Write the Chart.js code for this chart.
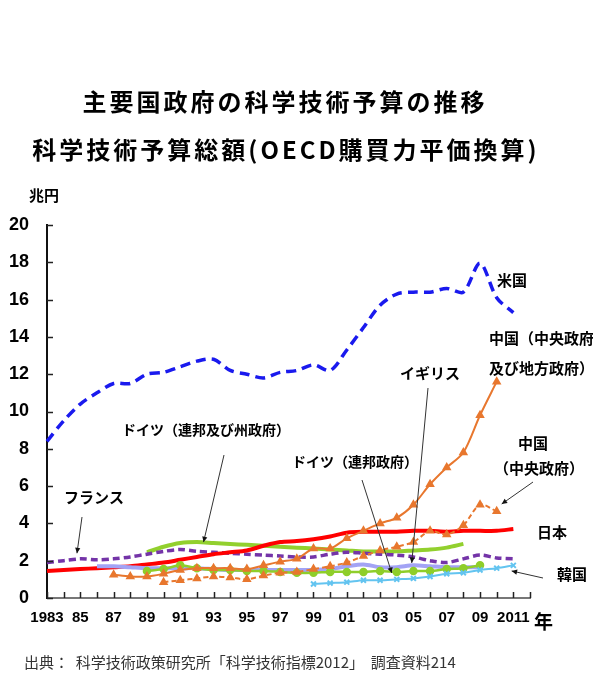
<!DOCTYPE html>
<html lang="ja">
<head>
<meta charset="utf-8">
<title>主要国政府の科学技術予算の推移</title>
<script src="https://cdn.jsdelivr.net/npm/chart.js@4.4.1/dist/chart.umd.min.js"></script>
<style>
  html, body { margin: 0; padding: 0; background: #fff; }
  #wrap { width: 593px; height: 673px; position: relative; }
</style>
</head>
<body>
<div id="wrap"><canvas id="stage"></canvas></div>
<script>
// 年（1983〜2012、2012は軸の端だけ）
var years = [];
for (var y = 1983; y <= 2012; y++) years.push(y);

// 科学技術予算総額（兆円）
var us = [8.4, 9.5, 10.4, 11.0, 11.5, 11.5, 12.0, 12.1, 12.4, 12.7, 12.8, 12.2, 12.0, 11.8, 12.1,
          12.2, 12.5, 12.2, 13.3, 14.5, 15.7, 16.3, 16.4, 16.4, 16.6, 16.4, 17.95, 16.1, 15.3, null];
var japan = [1.45, 1.5, 1.55, 1.6, 1.65, 1.7, 1.8, 1.9, 2.05, 2.2, 2.35, 2.45, 2.55, 2.8, 3.0,
             3.05, 3.15, 3.3, 3.5, 3.55, 3.55, 3.55, 3.6, 3.6, 3.55, 3.6, 3.6, 3.6, 3.7, null];
var france = [1.9, 2.0, 2.1, 2.05, 2.1, 2.2, 2.35, 2.5, 2.6, 2.5, 2.45, 2.4, 2.35, 2.3, 2.25,
              2.2, 2.2, 2.35, 2.45, 2.4, 2.35, 2.3, 2.2, 2.0, 1.9, 2.1, 2.3, 2.15, 2.1, null];
var germanyAll = [null, null, null, null, null, null,
                  2.45, 2.75, 2.95, 3.0, 2.95, 2.9, 2.85, 2.8, 2.75, 2.7, 2.65, 2.6, 2.55, 2.5,
                  2.5, 2.5, 2.55, 2.6, 2.7, 2.9, null, null, null, null];
var germanyFed = [null, null, null, null, null, null,
                  1.45, 1.55, 1.75, 1.6, 1.5, 1.5, 1.45, 1.45, 1.4, 1.35, 1.35, 1.4, 1.4, 1.4,
                  1.45, 1.4, 1.45, 1.45, 1.55, 1.6, 1.75, null, null, null];
var uk = [null, null, null,
          1.7, 1.7, 1.65, 1.6, 1.6, 1.6, 1.6, 1.55, 1.5, 1.5, 1.5, 1.5, 1.5, 1.5, 1.55,
          1.7, 1.8, 1.65, 1.65, 1.75, 1.7, 1.65, 1.65, 1.65, null, null, null];
var chinaTotal = [null, null, null, null,
                  1.25, 1.15, 1.15, 1.3, 1.5, 1.6, 1.6, 1.6, 1.55, 1.75, 1.95, 2.1, 2.65, 2.65,
                  3.2, 3.6, 4.0, 4.3, 5.0, 6.1, 7.0, 7.8, 9.8, 11.6, null, null];
var chinaCentral = [null, null, null, null, null, null, null,
                    0.85, 0.95, 1.05, 1.15, 1.1, 1.0, 1.2, 1.35, 1.4, 1.55, 1.7, 1.9, 2.25,
                    2.55, 2.75, 3.0, 3.6, 3.4, 3.9, 5.0, 4.65, null, null];
var korea = [null, null, null, null, null, null, null, null, null, null, null, null, null, null, null, null,
             0.75, 0.8, 0.85, 0.95, 0.95, 1.0, 1.05, 1.15, 1.3, 1.35, 1.5, 1.6, 1.75, null];

// 目盛
var yTicks = [0, 2, 4, 6, 8, 10, 12, 14, 16, 18, 20];
var xTickYears = [1983, 1985, 1987, 1989, 1991, 1993, 1995, 1997, 1999, 2001, 2003, 2005, 2007, 2009, 2011];

var JP = '"Noto Sans CJK JP", "Noto Sans", sans-serif';
var NUM = '"Liberation Sans Narrow", "Liberation Sans", Arial, sans-serif';

function xLabel(yr) {
  if (xTickYears.indexOf(yr) < 0) return '';
  if (yr === 1983 || yr === 2011) return String(yr);
  return String(yr).slice(2);
}

// 系列ラベルと引き出し線（線の先はデータ座標）
var notes = [
  { text: ['米国'], x: 497, y: 280, size: 15 },
  { text: ['中国（中央政府', '及び地方政府）'], x: 489, y: 338, size: 15, lh: 30 },
  { text: ['イギリス'], x: 400, y: 373, size: 15 },
  { text: ['ドイツ（連邦及び州政府）'], x: 122, y: 430, size: 14 },
  { text: ['ドイツ（連邦政府）'], x: 292, y: 462, size: 14 },
  { text: ['中国'], x: 518, y: 443, size: 15 },
  { text: ['（中央政府）'], x: 494, y: 468, size: 15 },
  { text: ['フランス'], x: 64, y: 497, size: 15 },
  { text: ['日本'], x: 537, y: 532, size: 15 },
  { text: ['韓国'], x: 557, y: 574, size: 15 }
];
var leaders = [
  { from: [82, 517], yr: 1984.8, v: 2.4 },
  { from: [224, 455], yr: 1992.4, v: 3.0 },
  { from: [428, 388], yr: 2004.9, v: 1.88 },
  { from: [362, 480], yr: 2003.7, v: 1.34 },
  { from: [533, 482], yr: 2010.3, v: 5.04 },
  { from: [543, 578], yr: 2010.9, v: 1.45 }
];

var decorations = {
  id: 'decorations',
  afterDraw: function (chart) {
    var ctx = chart.ctx;
    var xs = chart.scales.x, ys = chart.scales.y;
    var area = chart.chartArea;
    ctx.save();

    // 内向きの目盛線
    ctx.strokeStyle = '#222';
    ctx.lineWidth = 1.5;
    ctx.beginPath();
    for (var i = 0; i < years.length; i++) {
      var px = Math.round(xs.getPixelForValue(i)) + 0.5;
      ctx.moveTo(px, area.bottom);
      ctx.lineTo(px, area.bottom - 6);
    }
    yTicks.forEach(function (t) {
      var py = Math.round(ys.getPixelForValue(t)) + 0.5;
      ctx.moveTo(area.left, py);
      ctx.lineTo(area.left + 6, py);
    });
    ctx.stroke();

    // タイトル
    ctx.fillStyle = '#000';
    ctx.textAlign = 'center';
    ctx.textBaseline = 'middle';
    ctx.font = 'bold 24px ' + JP;
    ctx.letterSpacing = '3px';
    ctx.fillText('主要国政府の科学技術予算の推移', 285, 102);
    ctx.fillText('科学技術予算総額(OECD購買力平価換算)', 286, 150);
    ctx.letterSpacing = '0px';

    ctx.textAlign = 'left';
    ctx.font = 'bold 15px ' + JP;
    ctx.fillText('兆円', 29, 195);
    ctx.font = 'bold 19px ' + JP;
    ctx.fillText('年', 534, 622);

    // 系列ラベル
    notes.forEach(function (n) {
      ctx.font = 'bold ' + n.size + 'px ' + JP;
      n.text.forEach(function (t, k) {
        ctx.fillText(t, n.x, n.y + k * (n.lh || 0));
      });
    });

    // 引き出し線
    ctx.strokeStyle = '#333';
    ctx.fillStyle = '#111';
    ctx.lineWidth = 1;
    leaders.forEach(function (l) {
      var tx = xs.getPixelForValue(l.yr - 1983);
      var ty = ys.getPixelForValue(l.v);
      ctx.beginPath();
      ctx.moveTo(l.from[0], l.from[1]);
      ctx.lineTo(tx, ty);
      ctx.stroke();
      var a = Math.atan2(ty - l.from[1], tx - l.from[0]);
      ctx.beginPath();
      ctx.moveTo(tx, ty);
      ctx.lineTo(tx - 6 * Math.cos(a - 0.45), ty - 6 * Math.sin(a - 0.45));
      ctx.lineTo(tx - 6 * Math.cos(a + 0.45), ty - 6 * Math.sin(a + 0.45));
      ctx.closePath();
      ctx.fill();
    });

    // 出典
    ctx.fillStyle = '#333';
    ctx.font = '15px ' + JP;
    ctx.fillText('出典：  科学技術政策研究所「科学技術指標2012」  調査資料214', 24, 662);
    ctx.restore();
  }
};

var orange = '#e8772e';
var mydata = {
  labels: years,
  datasets: [
    { label: '中国（中央政府及び地方政府）', data: chinaTotal, borderColor: orange, backgroundColor: orange,
      borderWidth: 2, pointStyle: 'triangle', pointRadius: 3.5 },
    { label: '中国（中央政府）', data: chinaCentral, borderColor: orange, backgroundColor: orange,
      borderWidth: 2, borderDash: [5, 3], pointStyle: 'triangle', pointRadius: 3.5 },
    { label: '韓国', data: korea, borderColor: '#63c4f0', backgroundColor: '#63c4f0',
      borderWidth: 2, pointStyle: 'crossRot', pointRadius: 3.5, pointBorderWidth: 2 },
    { label: 'ドイツ（連邦政府）', data: germanyFed, borderColor: '#8fce2a', backgroundColor: '#8fce2a',
      borderWidth: 2.5, pointStyle: 'circle', pointRadius: 3 },
    { label: 'イギリス', data: uk, borderColor: '#a3a3f5', borderWidth: 4, pointRadius: 0 },
    { label: '日本', data: japan, borderColor: '#ff0000', borderWidth: 4, pointRadius: 0 },
    { label: 'フランス', data: france, borderColor: '#7434a8', borderWidth: 3.5, borderDash: [7, 4], pointRadius: 0 },
    { label: 'ドイツ（連邦及び州政府）', data: germanyAll, borderColor: '#92d02e', borderWidth: 4, pointRadius: 0 },
    { label: '米国', data: us, borderColor: '#1a1aee', borderWidth: 3.5, borderDash: [10, 6], pointRadius: 0 }
  ]
};

var options = {
  responsive: true,
  maintainAspectRatio: false,
  animation: false,
  devicePixelRatio: 1,
  layout: { padding: { top: 225, right: 63, bottom: 35, left: 0 } },
  elements: { line: { tension: 0.3, borderCapStyle: 'butt' }, point: { hoverRadius: 4 } },
  plugins: { legend: { display: false }, tooltip: { enabled: false } },
  scales: {
    x: {
      type: 'category',
      offset: false,
      afterFit: function (s) { s.height = 40; },
      border: { color: '#777', width: 2 },
      grid: { drawOnChartArea: false, drawTicks: false },
      ticks: {
        autoSkip: false, maxRotation: 0, padding: 11, color: '#000',
        font: { family: NUM, size: 15, weight: 'bold' },
        callback: function (val, idx) { return xLabel(years[idx]); }
      }
    },
    y: {
      min: 0, max: 20,
      afterFit: function (s) { s.width = 47; },
      afterBuildTicks: function (s) { s.ticks = yTicks.map(function (v) { return { value: v }; }); },
      border: { color: '#111', width: 2 },
      grid: { drawOnChartArea: false, drawTicks: false },
      ticks: {
        padding: 18, color: '#000',
        font: { family: NUM, size: 18, weight: 'bold' }
      }
    }
  }
};

var canvas = document.getElementById('stage');
var chart = new Chart(canvas, {
  type: 'line',
  data: mydata,
  options: options,
  plugins: [decorations]
});
</script>
</body>
</html>
